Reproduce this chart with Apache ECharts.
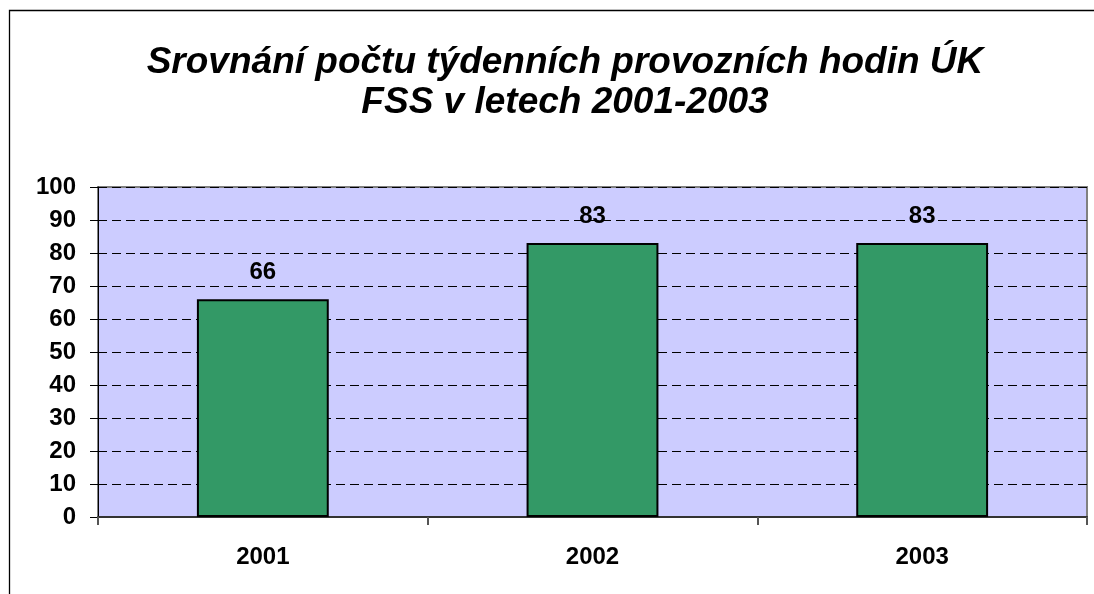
<!DOCTYPE html>
<html>
<head>
<meta charset="utf-8">
<script src="https://cdn.jsdelivr.net/npm/echarts@6/dist/echarts.min.js"></script>
<style>
  html, body { margin: 0; padding: 0; background: #fff; }
  #chart { width: 1094px; height: 594px; }
</style>
</head>
<body>
<div id="chart"></div>
<script>
// data
const years = ['2001', '2002', '2003'];
const hours = [66, 83, 83];
const titleLines = ['Srovnání počtu týdenních provozních hodin ÚK', 'FSS v letech 2001-2003'];

const font = 'Liberation Sans, Arial, sans-serif';
const chart = echarts.init(document.getElementById('chart'));

chart.setOption({
  animation: false,
  backgroundColor: '#fff',
  title: {
    text: titleLines.join('\n'),
    left: 560,
    top: 38,
    textAlign: 'center',
    textStyle: {
      fontFamily: font,
      fontSize: 37,
      fontWeight: 'bold',
      fontStyle: 'italic',
      color: '#000',
      lineHeight: 40,
      align: 'center'
    }
  },
  graphic: [{
    type: 'rect',
    shape: { x: 9.5, y: 10.5, width: 2000, height: 2000 },
    style: { fill: 'none', stroke: '#000', lineWidth: 1.3 },
    silent: true
  }],
  grid: {
    left: 98,
    right: 7,
    top: 187,
    bottom: 77,
    show: true,
    backgroundColor: '#CCCCFF',
    borderColor: '#808080',
    borderWidth: 2
  },
  xAxis: {
    type: 'category',
    data: years,
    axisLine: { lineStyle: { color: '#333', width: 2 } },
    axisTick: { show: true, length: 8, lineStyle: { color: '#555', width: 2 } },
    axisLabel: {
      fontFamily: font,
      fontSize: 24,
      fontWeight: 'bold',
      color: '#000',
      margin: 28
    }
  },
  yAxis: {
    type: 'value',
    min: 0,
    max: 100,
    interval: 10,
    axisLine: { show: true, lineStyle: { color: '#000', width: 1 } },
    axisTick: { show: true, length: 8, lineStyle: { color: '#000' } },
    axisLabel: {
      fontFamily: font,
      fontSize: 24,
      fontWeight: 'bold',
      color: '#000',
      margin: 22
    },
    splitLine: {
      lineStyle: { color: '#000', type: [9, 5], width: 1 }
    }
  },
  series: [{
    type: 'bar',
    data: hours,
    barWidth: '40%',
    itemStyle: { color: '#339966', borderColor: '#000', borderWidth: 2 },
    label: {
      show: true,
      position: 'top',
      distance: 15,
      fontFamily: font,
      fontSize: 24,
      fontWeight: 'bold',
      color: '#000'
    }
  }]
});
</script>
</body>
</html>
